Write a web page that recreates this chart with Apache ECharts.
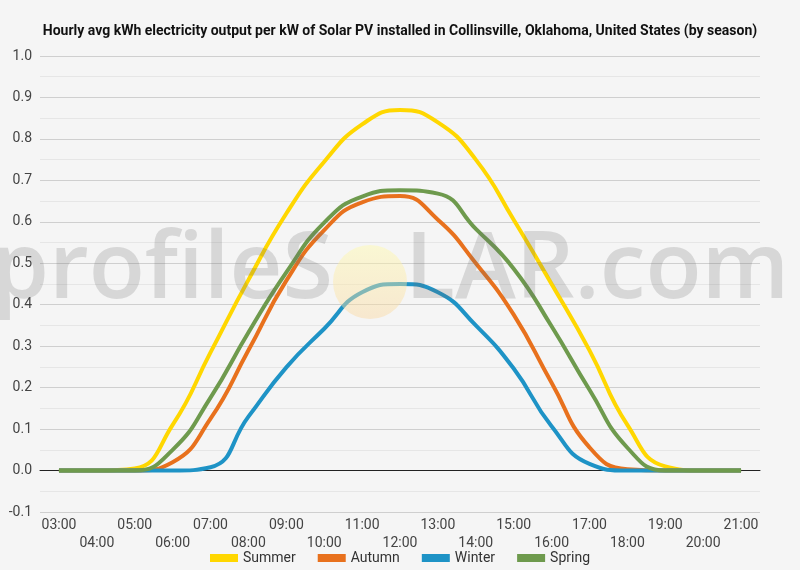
<!DOCTYPE html>
<html>
<head>
<meta charset="utf-8">
<script src="https://cdn.jsdelivr.net/npm/echarts@6/dist/echarts.min.js"></script>
<style>
    html, body {margin: 0; padding: 0; background: #f5f5f5;}
    #chart {width: 800px; height: 570px;}
</style>
</head>
<body>
<div id="chart"></div>
<script>
const hours = ['03:00', '04:00', '05:00', '06:00', '07:00', '08:00', '09:00', '10:00', '11:00', '12:00',
    '13:00', '14:00', '15:00', '16:00', '17:00', '18:00', '19:00', '20:00', '21:00'];

const summer = [0, 0, 0.005, 0.11, 0.285, 0.46, 0.62, 0.745, 0.835, 0.87, 0.84, 0.75, 0.605, 0.45, 0.29, 0.11, 0.01, 0, 0];
const autumn = [0, 0, 0, 0.02, 0.125, 0.29, 0.458, 0.58, 0.647, 0.662, 0.605, 0.5, 0.376, 0.212, 0.056, 0.003, 0, 0, 0];
const winter = [0, 0, 0, 0, 0.008, 0.13, 0.249, 0.342, 0.43, 0.45, 0.43, 0.35, 0.246, 0.107, 0.016, 0, 0, 0, 0];
const spring = [0, 0, 0, 0.05, 0.176, 0.333, 0.478, 0.598, 0.661, 0.676, 0.668, 0.583, 0.487, 0.348, 0.195, 0.055, 0, 0, 0];

const seriesNames = ['Summer', 'Autumn', 'Winter', 'Spring'];
const seriesColors = ['#ffd700', '#e8711d', '#1e93c6', '#6e9a4d'];

const makeLine = (name, data, color) => ({
    name,
    type: 'line',
    data,
    smooth: 0.5,
    showSymbol: false,
    lineStyle: {width: 4, color},
    itemStyle: {color}
});

const chart = echarts.init(document.getElementById('chart'));

chart.setOption({
    backgroundColor: '#f5f5f5',
    animation: false,
    textStyle: {fontFamily: 'Roboto'},
    title: {
        text: 'Hourly avg kWh electricity output per kW of Solar PV installed in Collinsville, Oklahoma, United States (by season)',
        left: 'center',
        top: 19,
        textStyle: {fontSize: 14, fontWeight: 'bold', color: '#111', fontFamily: 'Roboto'}
    },
    legend: {
        bottom: 0,
        left: 'center',
        itemWidth: 28,
        itemHeight: 8,
        itemGap: 22,
        icon: 'rect',
        textStyle: {fontSize: 14, color: '#333'},
        data: seriesNames
    },
    grid: {left: 40, right: 40, top: 56, bottom: 58, outerBoundsMode: 'none'},
    xAxis: {
        type: 'category',
        data: hours,
        boundaryGap: true,
        axisTick: {show: false},
        axisLine: {onZero: true, lineStyle: {color: '#222', width: 1}},
        axisLabel: {
            interval: 0,
            color: '#444',
            fontSize: 14,
            lineHeight: 18,
            margin: 4,
            formatter: (v, i) => (i % 2 === 1 ? '\n' + v : v)
        }
    },
    yAxis: {
        type: 'value',
        min: -0.1,
        max: 1.0,
        interval: 0.1,
        axisLine: {show: false},
        axisTick: {show: false},
        axisLabel: {
            color: '#444',
            fontSize: 14,
            margin: 8,
            formatter: v => v.toFixed(1)
        },
        splitLine: {lineStyle: {color: '#cfcfcf', width: 1}},
        minorTick: {show: false, splitNumber: 2},
        minorSplitLine: {show: true, lineStyle: {color: '#e6e6e6', width: 1}}
    },
    series: seriesNames.map((name, i) => makeLine(name, [summer, autumn, winter, spring][i], seriesColors[i])),
    graphic: [
        {
            type: 'text',
            z: 100,
            right: 467,
            top: 226,
            style: {
                text: 'profileS',
                font: '600 92px "Open Sans"',
                fill: 'rgba(110,110,110,0.22)'
            }
        },
        {
            type: 'circle',
            z: 99,
            shape: {cx: 370, cy: 282, r: 37},
            style: {
                fill: new echarts.graphic.LinearGradient(0, 0, 0, 1, [
                    {offset: 0, color: 'rgba(255,250,170,0.45)'},
                    {offset: 1, color: 'rgba(250,215,160,0.45)'}
                ])
            }
        },
        {
            type: 'text',
            z: 100,
            left: 405,
            top: 226,
            style: {
                text: 'LAR.com',
                font: '600 92px "Open Sans"',
                fill: 'rgba(110,110,110,0.22)'
            }
        }
    ]
});
</script>
</body>
</html>
